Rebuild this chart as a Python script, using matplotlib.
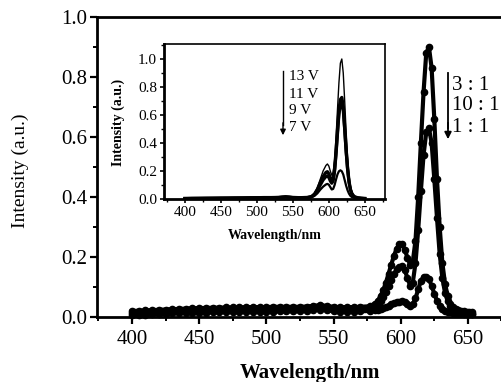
import matplotlib
matplotlib.use("Agg")
import matplotlib.pyplot as plt
from matplotlib.ticker import MultipleLocator

plt.rcParams['font.family'] = ['Liberation Serif', 'DejaVu Serif']

# ---------------- main panel data ----------------
wl_main = [400, 405, 410, 415, 420, 425, 430, 435, 440, 445, 450, 455, 460, 465, 470,
           475, 480, 485, 490, 495, 500, 505, 510, 515, 520, 525, 530, 535, 540, 545,
           550, 555, 560, 565, 570, 577, 581, 583, 585, 587, 589, 591, 593, 595, 597,
           599, 601, 603, 605, 607, 609, 611, 613, 615, 617, 619, 621, 623, 625, 627,
           629, 631, 633, 635, 637, 639, 641, 643, 645, 647, 649, 651, 653]

ratio_3_1 = [0.020, 0.021, 0.022, 0.023, 0.024, 0.025, 0.026, 0.027, 0.028, 0.029, 0.030, 0.030, 0.031, 0.031, 0.032,
             0.032, 0.032, 0.033, 0.033, 0.033, 0.033, 0.034, 0.034, 0.034, 0.034, 0.034, 0.035, 0.037, 0.040, 0.037,
             0.034, 0.033, 0.033, 0.033, 0.034, 0.036, 0.045, 0.055, 0.070, 0.090, 0.115, 0.145, 0.175, 0.205, 0.228,
             0.242, 0.242, 0.225, 0.198, 0.175, 0.185, 0.255, 0.400, 0.580, 0.750, 0.880, 0.900, 0.830, 0.660, 0.460,
             0.300, 0.180, 0.110, 0.070, 0.045, 0.034, 0.028, 0.024, 0.021, 0.019, 0.018, 0.017, 0.016]

ratio_10_1 = [0.013, 0.014, 0.015, 0.016, 0.017, 0.018, 0.019, 0.020, 0.021, 0.022, 0.022, 0.023, 0.023, 0.024, 0.024,
              0.024, 0.025, 0.025, 0.025, 0.026, 0.026, 0.026, 0.026, 0.027, 0.027, 0.027, 0.028, 0.030, 0.033, 0.030,
              0.027, 0.026, 0.026, 0.026, 0.027, 0.029, 0.036, 0.043, 0.053, 0.067, 0.085, 0.103, 0.123, 0.143, 0.160,
              0.168, 0.170, 0.157, 0.130, 0.105, 0.115, 0.180, 0.290, 0.420, 0.540, 0.615, 0.630, 0.580, 0.460, 0.330,
              0.210, 0.130, 0.080, 0.052, 0.036, 0.028, 0.022, 0.018, 0.016, 0.014, 0.013, 0.012, 0.011]

ratio_1_1 = [0.006, 0.007, 0.008, 0.009, 0.010, 0.011, 0.012, 0.013, 0.014, 0.014, 0.015, 0.015, 0.016, 0.016, 0.016,
             0.017, 0.017, 0.017, 0.018, 0.018, 0.018, 0.018, 0.019, 0.019, 0.019, 0.019, 0.020, 0.022, 0.025, 0.022,
             0.019, 0.018, 0.018, 0.018, 0.019, 0.020, 0.022, 0.024, 0.027, 0.030, 0.034, 0.038, 0.042, 0.046, 0.049,
             0.051, 0.052, 0.050, 0.044, 0.037, 0.042, 0.062, 0.092, 0.120, 0.134, 0.135, 0.126, 0.104, 0.078, 0.054,
             0.037, 0.027, 0.021, 0.018, 0.016, 0.015, 0.014, 0.013, 0.012, 0.011, 0.011, 0.010, 0.010]

ratio_labels = ['3 : 1', '10 : 1', '1 : 1']

# ---------------- inset data ----------------
wl_inset = [400, 410, 420, 430, 440, 450, 460, 470, 480, 490, 500, 510, 520, 530, 535,
            540, 545, 550, 560, 570, 576, 580, 584, 588, 592, 596, 598, 600, 602, 604,
            606, 608, 610, 612, 614, 616, 618, 620, 622, 624, 626, 628, 630, 632, 634,
            636, 640, 645, 650]

v13 = [0.004, 0.005, 0.006, 0.006, 0.007, 0.007, 0.008, 0.008, 0.009, 0.009, 0.010, 0.010, 0.011, 0.012, 0.015,
       0.018, 0.015, 0.012, 0.010, 0.012, 0.020, 0.040, 0.080, 0.140, 0.200, 0.240, 0.250, 0.235, 0.200, 0.170,
       0.190, 0.280, 0.440, 0.640, 0.830, 0.970, 1.000, 0.900, 0.700, 0.480, 0.300, 0.170, 0.090, 0.050, 0.030,
       0.018, 0.010, 0.006, 0.004]

v11 = [0.004, 0.005, 0.005, 0.006, 0.006, 0.007, 0.007, 0.008, 0.008, 0.009, 0.009, 0.010, 0.010, 0.011, 0.014,
       0.016, 0.014, 0.011, 0.009, 0.011, 0.018, 0.035, 0.068, 0.115, 0.160, 0.190, 0.195, 0.180, 0.150, 0.130,
       0.145, 0.215, 0.340, 0.490, 0.630, 0.710, 0.725, 0.660, 0.510, 0.350, 0.220, 0.125, 0.068, 0.038, 0.024,
       0.015, 0.009, 0.006, 0.004]

v9 = [0.003, 0.004, 0.005, 0.005, 0.006, 0.006, 0.007, 0.007, 0.008, 0.008, 0.009, 0.009, 0.010, 0.011, 0.013,
      0.015, 0.013, 0.010, 0.009, 0.010, 0.016, 0.030, 0.058, 0.098, 0.135, 0.160, 0.165, 0.152, 0.128, 0.112,
      0.128, 0.195, 0.315, 0.460, 0.600, 0.675, 0.690, 0.630, 0.490, 0.335, 0.210, 0.120, 0.065, 0.036, 0.022,
      0.014, 0.008, 0.005, 0.003]

v7 = [0.003, 0.003, 0.004, 0.004, 0.005, 0.005, 0.006, 0.006, 0.006, 0.007, 0.007, 0.007, 0.008, 0.008, 0.010,
      0.012, 0.010, 0.008, 0.007, 0.008, 0.012, 0.022, 0.040, 0.066, 0.088, 0.104, 0.108, 0.102, 0.085, 0.068,
      0.072, 0.100, 0.140, 0.176, 0.198, 0.205, 0.198, 0.175, 0.135, 0.095, 0.062, 0.038, 0.022, 0.014, 0.010,
      0.007, 0.005, 0.004, 0.003]

voltage_labels = ['13 V', '11 V', '9 V', '7 V']

# ---------------- figure ----------------
W, H = 501, 382
fig = plt.figure(figsize=(W / 100, H / 100), dpi=100)

def rect(l, t, r, b):
    return [l / W, 1 - b / H, (r - l) / W, (b - t) / H]

ax = fig.add_axes(rect(97, 17, 523, 317))
for series in (ratio_3_1, ratio_10_1, ratio_1_1):
    ax.plot(wl_main, series, color='black', lw=3.0, marker='o', ms=4.5,
            mec='black', mfc='black', clip_on=False)

ax.set_xlim(374, 691)
ax.set_ylim(0, 1.0)
ax.set_xticks([400, 450, 500, 550, 600, 650])
ax.xaxis.set_minor_locator(MultipleLocator(25))
ax.yaxis.set_major_locator(MultipleLocator(0.2))
ax.yaxis.set_minor_locator(MultipleLocator(0.1))
ax.yaxis.set_major_formatter(plt.FuncFormatter(lambda v, p: f"{v:.1f}"))
ax.tick_params(which='major', direction='out', length=5, width=1.6, labelsize=15)
ax.tick_params(which='minor', direction='out', length=3, width=1.4)
ax.tick_params(axis='x', pad=4)
ax.tick_params(axis='y', pad=2)
for s in ('left', 'bottom', 'top'):
    ax.spines[s].set_linewidth(2.0)
ax.spines['right'].set_visible(False)

ax.set_xlabel('Wavelength/nm', fontsize=15, fontweight='bold')
ax.xaxis.set_label_coords((310 - 97) / (523 - 97), -(373 - 317) / 300)
ax.xaxis.label.set_va('center')
ax.set_ylabel('Intensity (a.u.)', fontsize=14)
ax.yaxis.set_label_coords(-(97 - 20) / (523 - 97), (317 - 171) / 300)
ax.yaxis.label.set_va('center')

# ratio annotation
fig.add_artist(plt.Line2D([448 / W, 448 / W], [1 - 73 / H, 1 - 128 / H], color='black', lw=1.3))
fig.add_artist(matplotlib.patches.FancyArrowPatch((448 / W, 1 - 120 / H), (448 / W, 1 - 142 / H),
               transform=fig.transFigure, arrowstyle='-|>', mutation_scale=10, color='black', lw=1.3))
for lab, yy in zip(ratio_labels, [85, 106, 128]):
    fig.text(452 / W, 1 - yy / H, lab, fontsize=15, ha='left', va='center')

# ---------------- inset ----------------
axi = fig.add_axes(rect(164, 44, 385, 199))
for series, lw in zip((v13, v11, v9, v7), (1.0, 2.4, 2.2, 1.6)):
    axi.plot(wl_inset, series, color='black', lw=lw)
axi.set_xlim(371, 678)
axi.set_ylim(0, 1.107)
axi.set_xticks([400, 450, 500, 550, 600, 650])
axi.xaxis.set_minor_locator(MultipleLocator(25))
axi.yaxis.set_major_locator(MultipleLocator(0.2))
axi.yaxis.set_minor_locator(MultipleLocator(0.1))
axi.yaxis.set_major_formatter(plt.FuncFormatter(lambda v, p: f"{v:.1f}"))
axi.tick_params(which='major', direction='out', length=3, width=1.2, labelsize=11, pad=2)
axi.tick_params(which='minor', direction='out', length=2, width=1.0)
for s in ('left', 'bottom'):
    axi.spines[s].set_linewidth(2.0)
for s in ('top', 'right'):
    axi.spines[s].set_linewidth(1.2)
axi.set_xlabel('Wavelength/nm', fontsize=10, fontweight='bold')
axi.xaxis.set_label_coords((275 - 164) / (385 - 164), -(235 - 199) / (199 - 44))
axi.xaxis.label.set_va('center')
axi.set_ylabel('Intensity (a.u.)', fontsize=10, fontweight='bold')
axi.yaxis.set_label_coords(-(164 - 118) / (385 - 164), (199 - 122) / (199 - 44))
axi.yaxis.label.set_va('center')

fig.add_artist(plt.Line2D([283 / W, 283 / W], [1 - 71 / H, 1 - 125 / H], color='black', lw=1.0))
fig.add_artist(matplotlib.patches.FancyArrowPatch((283 / W, 1 - 120 / H), (283 / W, 1 - 138 / H),
               transform=fig.transFigure, arrowstyle='-|>', mutation_scale=8, color='black', lw=1.0))
for lab, yy in zip(voltage_labels, [77, 94, 110, 127]):
    fig.text(289 / W, 1 - yy / H, lab, fontsize=11, ha='left', va='center')

fig.savefig('out.png', dpi=100)
